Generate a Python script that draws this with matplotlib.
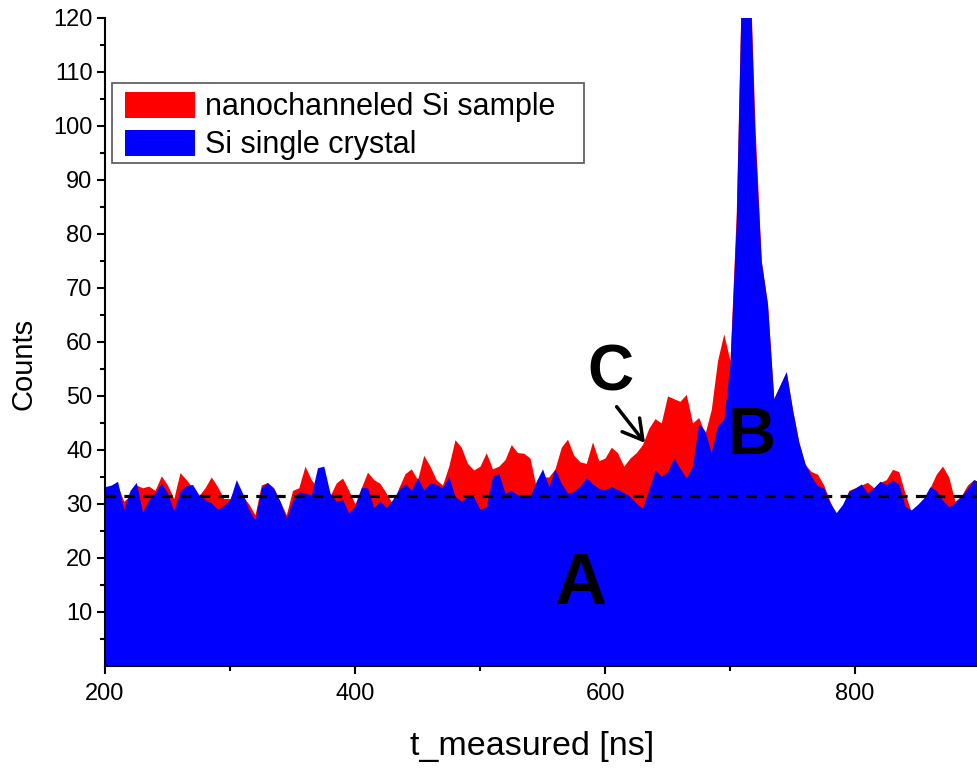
import numpy as np
import matplotlib
matplotlib.use("Agg")
import matplotlib.pyplot as plt
from matplotlib.patches import Rectangle
from matplotlib.ticker import FixedLocator

# time axis, 5 ns bins
t_ns = np.arange(200, 905, 5)

# nanochanneled Si sample (counts per bin)
counts_nano = [
    33.0, 33.0, 33.5, 30.5, 31.5, 33.5, 33.0, 33.3, 32.5, 35.2,   # 200-245
    33.5, 31.0, 35.8, 34.5, 33.0, 31.5, 33.0, 35.0, 33.2, 31.0,   # 250-295
    31.0, 33.5, 31.5, 30.0, 28.0, 33.5, 34.0, 33.0, 30.5, 28.0,   # 300-345
    32.5, 33.0, 37.0, 34.5, 33.0, 33.0, 31.5, 33.9, 34.8, 32.5,   # 350-395
    30.0, 33.0, 35.9, 34.5, 33.8, 32.0, 30.0, 33.0, 35.6, 36.5,   # 400-445
    34.5, 39.0, 37.0, 34.5, 33.5, 37.0, 41.9, 40.5, 37.5, 36.3,   # 450-495
    37.0, 39.5, 36.5, 37.0, 38.2, 41.0, 39.5, 39.4, 38.5, 33.0,   # 500-545
    35.0, 35.0, 36.5, 40.5, 42.0, 39.0, 37.8, 37.5, 41.5, 38.0,   # 550-595
    38.5, 40.5, 39.5, 37.0, 38.5, 39.5, 41.0, 44.0, 45.8, 45.0,   # 600-645
    50.0, 49.5, 49.0, 50.3, 45.0, 46.0, 43.0, 47.5, 56.5, 61.5,   # 650-695
    56.5, 84.0, 135.0, 135.0, 100.0, 75.0, 67.0, 49.5, 52.0, 54.5,  # 700-745
    47.5, 41.5, 37.3, 36.0, 35.5, 33.5, 30.5, 28.0, 29.5, 32.5,   # 750-795
    33.0, 33.5, 34.0, 33.0, 34.0, 34.5, 36.4, 36.0, 32.0, 28.5,   # 800-845
    29.0, 31.0, 33.0, 35.5, 37.0, 35.0, 30.5, 31.5, 33.5, 34.5,   # 850-895
    34.0,                                                         # 900
]

# Si single crystal reference (counts per bin)
counts_bulk = [
    33.2, 33.5, 34.2, 29.0, 32.5, 34.0, 28.5, 30.8, 32.0, 33.9,   # 200-245
    32.0, 28.8, 32.3, 33.4, 33.6, 31.7, 30.8, 30.2, 29.0, 29.7,   # 250-295
    30.8, 34.5, 32.0, 29.0, 27.0, 33.0, 33.9, 32.8, 30.5, 27.4,   # 300-345
    30.5, 32.3, 32.0, 31.7, 36.7, 37.0, 32.0, 30.5, 30.8, 28.3,   # 350-395
    29.6, 33.0, 33.0, 29.3, 30.5, 29.3, 30.8, 32.6, 33.8, 32.6,   # 400-445
    34.9, 32.6, 33.9, 33.6, 33.0, 35.1, 31.4, 30.5, 31.4, 31.3,   # 450-495
    29.0, 29.5, 35.1, 35.7, 32.0, 32.5, 31.7, 31.5, 31.4, 34.2,   # 500-545
    36.5, 33.2, 36.5, 33.8, 32.0, 32.3, 33.3, 34.9, 33.7, 32.9,   # 550-595
    32.6, 33.2, 32.7, 32.1, 31.4, 30.1, 29.2, 32.6, 36.3, 35.1,   # 600-645
    36.0, 38.5, 36.6, 34.8, 37.0, 45.0, 43.5, 39.5, 44.5, 45.6,   # 650-695
    56.0, 82.0, 135.0, 135.0, 97.0, 75.0, 67.0, 49.5, 52.0, 54.5,  # 700-745
    47.5, 41.5, 37.5, 35.1, 33.4, 32.9, 30.2, 28.4, 29.9, 32.3,   # 750-795
    32.9, 33.7, 32.0, 33.0, 34.2, 33.6, 34.4, 33.7, 29.6, 28.9,   # 800-845
    29.9, 31.1, 33.2, 32.5, 30.7, 29.5, 30.2, 31.4, 32.9, 34.5,   # 850-895
    34.0,                                                         # 900
]

background_level = 31.5

text_font = ["Liberation Sans", "DejaVu Sans"]

fig = plt.figure(figsize=(9.77, 7.69), dpi=100)
ax = fig.add_axes([0.1075, 0.134, 0.8925, 0.8427])

ax.fill_between(t_ns, 0, counts_nano, color="#ff0000", lw=0,
                label="nanochanneled Si sample")
ax.fill_between(t_ns, 0, counts_bulk, color="#0000ff", lw=0,
                label="Si single crystal")
ax.axhline(background_level, color="black", lw=2.3, dashes=(3.3, 2.6))

ax.set_xlim(200, 897.6)
ax.set_ylim(0, 120)

ax.xaxis.set_major_locator(FixedLocator([200, 400, 600, 800]))
ax.xaxis.set_minor_locator(FixedLocator([300, 500, 700]))
ax.yaxis.set_major_locator(FixedLocator(list(range(10, 121, 10))))
ax.yaxis.set_minor_locator(FixedLocator(list(range(5, 120, 10))))
ax.tick_params(which="major", direction="out", length=6, width=1.5,
               labelsize=17)
ax.tick_params(which="minor", direction="out", length=3.6, width=1.5)
ax.tick_params(axis="x", which="major", pad=6)
ax.tick_params(axis="y", which="major", pad=3)
for lab in ax.get_xticklabels() + ax.get_yticklabels():
    lab.set_family(text_font)

for side in ("top", "right"):
    ax.spines[side].set_visible(False)
for side in ("left", "bottom"):
    ax.spines[side].set_linewidth(1.5)

ax.set_xlabel("t_measured [ns]", fontsize=24.5, family=text_font)
ax.set_ylabel("Counts", fontsize=21, family=text_font)
ax.xaxis.set_label_coords(0.49, -0.1)
ax.yaxis.set_label_coords(-0.078, 0.466)

# region markers
ax.text(580, 15, "A", fontsize=52, fontweight="bold", family=text_font,
        ha="center", va="center")
ax.text(717, 42.4, "B", fontsize=48, fontweight="bold", family=text_font,
        ha="center", va="center")
ax.text(604, 54.2, "C", fontsize=46, fontweight="bold", family=text_font,
        ha="center", va="center")
ax.annotate("", xy=(632, 41.3), xytext=(609.3, 48.0),
            arrowprops=dict(arrowstyle="->,head_length=0.7,head_width=0.4",
                            color="black", lw=2.5, mutation_scale=20,
                            shrinkA=0, shrinkB=0))

# legend entries with a plain rectangular frame behind them
ax.add_patch(Rectangle((112 / 977, 1 - 163 / 769), 472 / 977, 80 / 769,
                       transform=fig.transFigure, facecolor="white",
                       edgecolor="#555555", lw=1.2, zorder=4, clip_on=False))
leg = ax.legend(loc="upper left", bbox_to_anchor=(125 / 977, 1 - 92 / 769),
                bbox_transform=fig.transFigure, borderaxespad=0,
                frameon=False, handlelength=2.29, handleheight=0.92,
                handletextpad=0.33, labelspacing=0.25, borderpad=0,
                prop={"family": text_font, "size": 22})
leg.set_zorder(5)

fig.savefig("out.png", dpi=100)
